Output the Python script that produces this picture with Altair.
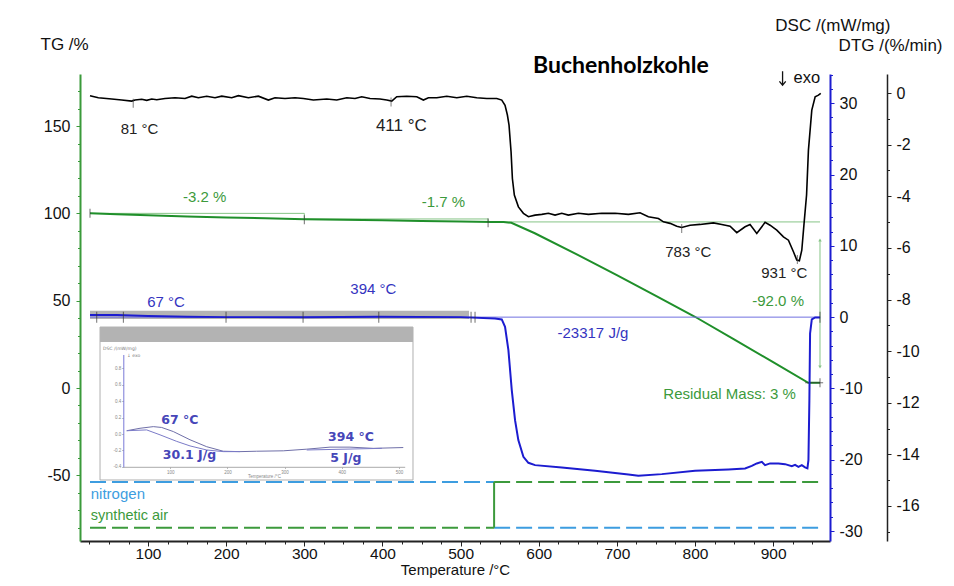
import altair as alt
import pandas as pd

FONT = "Liberation Sans"

# ---------------- scales (domains) ----------------
T_DOMAIN = [12.9, 972.8]
TG_DOMAIN = [-87.6, 179.8]
DSC_DOMAIN = [-31.4, 34.1]
DTG_DOMAIN = [-17.36, 0.74]

x_ticks = list(range(25, 951, 25))
tg_ticks = list(range(-80, 171, 10))
dsc_ticks = list(range(-30, 35, 2))
dtg_ticks = list(range(-17, 1, 1))

# ---------------- DTG curve (black) ----------------
dtg_T = [25.7, 36.4, 53.5, 66.3, 79.1, 83.3, 91.9, 98.3, 104.7, 111.1, 121.7, 134.5, 147.3,
         155.9, 164.4, 175.1, 185.7, 194.3, 207.1, 215.6, 228.4, 241.2, 254, 262.5, 275.3,
         288.1, 298.8, 311.6, 328.7, 341.5, 354.3, 364.9, 373.5, 384.1, 396.9, 405.5, 411.9,
         418.3, 431.1, 443.9, 452.4, 458.8, 469.5, 482.3, 495.1, 507.9, 520.7, 533.5, 546.3,
         552.7, 556.9, 559.9, 562, 564.6, 566.3, 568.8, 574, 580.4, 586.8, 595.3, 603.9,
         612.4, 620.9, 629.5, 637.9, 650.8, 663.6, 680.7, 697.7, 714.8, 729.7, 740.3, 753.2,
         759.6, 768.1, 776.7, 783, 793.7, 806.5, 823.6, 834.3, 844.9, 853.5, 864.1, 870.5,
         879.1, 889.7, 896.1, 904.7, 913.2, 919.6, 926, 930.3, 933.6, 936.7, 939.6, 942.8,
         945.2, 949.5, 953.8, 958, 961]
dtg_v = [-0.10, -0.18, -0.23, -0.27, -0.31, -0.27, -0.24, -0.28, -0.23, -0.26, -0.21, -0.18,
         -0.21, -0.12, -0.18, -0.12, -0.18, -0.12, -0.18, -0.10, -0.18, -0.12, -0.27, -0.18,
         -0.21, -0.18, -0.21, -0.27, -0.23, -0.27, -0.18, -0.21, -0.14, -0.21, -0.23, -0.27,
         -0.31, -0.14, -0.12, -0.14, -0.27, -0.18, -0.18, -0.12, -0.18, -0.12, -0.18, -0.21,
         -0.21, -0.27, -0.47, -0.85, -1.24, -2.28, -3.31, -3.95, -4.41, -4.66, -4.79, -4.73,
         -4.70, -4.66, -4.73, -4.66, -4.73, -4.66, -4.70, -4.66, -4.66, -4.70, -4.64, -4.79,
         -4.86, -4.99, -5.05, -5.16, -5.21, -5.12, -5.09, -5.03, -5.09, -5.16, -5.41, -5.18,
         -5.09, -5.44, -5.01, -5.12, -5.31, -5.57, -5.70, -6.15, -6.47, -6.50, -6.09, -5.05,
         -3.95, -2.21, -0.66, -0.14, -0.08, -0.01]
dtg_mark_T = [81, 411, 783, 931]
dtg_mark_v = [-0.39, -0.35, -5.25, -6.45]
dtg_lab = ["81 °C", "783 °C", "931 °C"]
dtg_lab_T = [89.1, 791.4, 914.3]
dtg_lab_v = [-1.41, -6.15, -6.99]
dtg_lab2 = ["411 °C"]
dtg_lab2_T = [424.2]
dtg_lab2_v = [-1.28]

# ---------------- TG curve (green) ----------------
tg_T = [25.7, 60, 100, 150, 200, 250, 300, 350, 400, 450, 500, 540, 555, 565, 595, 650,
        700, 750, 800, 850, 900, 945, 960]
tg_v = [100, 99.5, 98.9, 98.2, 97.6, 97.2, 96.6, 96.3, 96.0, 95.7, 95.4, 95.1, 95.0, 94.6,
        88.6, 76.2, 64.6, 52.8, 40.8, 27.8, 14.8, 3.0, 3.0]
step_T = [25.7, 300, 300, 535.2, 535.2, 960]
step_v = [100, 100, 96.8, 96.8, 95.1, 95.1]
step_order = [0, 1, 2, 3, 4, 5]
tg_mark_T = [25.7, 300, 535.2, 960]
tg_mark_v = [100, 96.3, 94.6, 3.0]
resid_T = [952.5]
resid_v = [3.0]
arrow_T = [960]
arrow_top = [84.8]
arrow_bot = [12.0]
tg_lab = ["-3.2 %", "-1.7 %", "-92.0 %", "Residual Mass: 3 %"]
tg_lab_T = [172.5, 478, 906.4, 844.3]
tg_lab_v = [109.6, 106.7, 50.0, -3.4]

# gas atmosphere
gas_T0 = [25.7, 542.9]
gas_T1 = [542.9, 960]
nitrogen_v = [-53.8, -80.0]
air_v = [-80.0, -53.8]
switch_T = [542.9]
gas_lab_T = [26.7]
nitrogen_lab_v = [-60.9]
air_lab_v = [-73.3]

# ---------------- DSC curve (blue) ----------------
dsc_T = [25.7, 60, 100, 150, 200, 300, 394, 500, 544.1, 552.7, 556.9, 561.2, 565.5, 569.7,
         573.9, 580.4, 586.8, 595.3, 629.5, 672.1, 714.8, 727.5, 757.5, 800.1, 842.7, 864.1,
         872.7, 879.1, 885.5, 889.7, 896.1, 906.8, 915.3, 923.9, 928.1, 932.4, 936.7, 940.9,
         943.9, 945.2, 946.4, 947.3, 949.5, 953.8, 960.2]
dsc_v = [0.3, 0.3, 0.15, 0.05, 0.0, 0.0, 0.05, 0.0, -0.18, -0.32, -1.36, -4.63, -10.24,
         -14.45, -17.25, -19.6, -20.43, -20.76, -21.08, -21.56, -22.06, -22.26, -22.02,
         -21.56, -21.36, -21.22, -20.86, -20.52, -20.29, -20.76, -20.52, -20.52, -20.62,
         -20.90, -20.72, -21.0, -20.76, -21.08, -21.22, -20.06, -11.64, -2.29, -0.32, -0.04,
         -0.04]
bar_T0 = [25.7]
bar_T1 = [510.8]
bar_v0 = [-0.28]
bar_v1 = [0.88]
base_T0 = [25.7]
base_T1 = [960]
base_v = [0.0]
dsc_mark_T = [34.3, 68.4, 199.8, 298.4, 395.3, 513.4, 518.5, 960]
dsc_mark_v = [0.0, 0.0, 0.0, 0.0, 0.0, 0.0, 0.0, 0.0]
dsc_lab = ["67 °C", "394 °C", "-23317 J/g"]
dsc_lab_T = [123, 388.4, 669.4]
dsc_lab_v = [2.15, 3.93, -2.2]
title_T = [592.8]
title_v = [34.26]
exo_T = [960.1]
exo_v = [32.8]
exo_arrow_T = [912.1]
exo_arrow_v = [33.5]

# ---------------- inset (partial DSC view) ----------------
IN_X_DOMAIN = [18, 510]
IN_Y_DOMAIN = [-0.4, 0.97]
in_ticks_x = [100, 200, 300, 400, 500]
in_ticks_y = [-0.4, -0.2, 0.0, 0.2, 0.4, 0.6, 0.8]
in_box_x = [-22.7, 524.5]
in_box_y = [-0.561, 1.305]
in_head_y = [1.122, 1.305]
in_upper_T = [24, 47.2, 70.5, 85.1, 105.4, 134.6, 163.8, 192.8, 222, 251.2, 297.7, 338.6,
              379.4, 414.3, 455, 507.5]
in_upper_v = [0.04, 0.07, 0.09, 0.08, 0.03, -0.07, -0.155, -0.21, -0.215, -0.21, -0.205,
              -0.185, -0.16, -0.16, -0.175, -0.165]
in_lower_T = [24, 58.9, 82.2, 111.4, 134.6, 163.8, 192.8, 222]
in_lower_v = [0.04, 0.05, -0.01, -0.09, -0.145, -0.195, -0.215, -0.215]
in_base2_T = [338.6, 470]
in_base2_v = [-0.195, -0.175]
in_lab = ["67 °C", "30.1 J/g", "394 °C", "5 J/g"]
in_lab_T = [117, 133.7, 416, 407]
in_lab_v = [0.171, -0.256, -0.037, -0.293]
in_small = ["DSC /(mW/mg)", "\u2193\ufe0e exo"]
in_small_T = [-17.5, 24.5]
in_small_v = [1.037, 0.957]

# ---------------- colours ----------------
GREEN = "#1f8f2a"
GREEN_TXT = "#3c9a3c"
GREEN_THIN = "#86c486"
BLUE = "#1c1cd0"
BLUE_TXT = "#3434c0"
LIGHT_BLUE = "#3d9de0"
INK = "#111111"
ARROW_SHAPE = "M0,-1L0,1M-0.45,0.45L0,1L0.45,0.45"


def cond(test, a, b):
    return {"condition": {"test": test, "value": a}, "value": b}


X_AXIS = alt.Axis(values=x_ticks, labelExpr="datum.value % 100 === 0 ? '' + datum.value : ''",
                  tickSize=cond("datum.value % 100 === 0", 5, 3), tickColor="#222",
                  domainColor="#222", domainWidth=2, labelFontSize=15.5, labelColor=INK,
                  labelPadding=0, labelFont=FONT, labelOverlap=False, labelFlush=False,
                  title="Temperature /°C", titleFont=FONT, titleFontSize=15,
                  titleFontWeight="normal", titleColor=INK, titleY=33,
                  titleBaseline="alphabetic", grid=False)
TG_AXIS = alt.Axis(orient="left", values=tg_ticks,
                   labelExpr="datum.value % 50 === 0 ? '' + datum.value : ''",
                   tickSize=cond("datum.value % 50 === 0", 4, 2.5), tickColor="#3a9a3a",
                   domainColor="#3a9a3a", domainWidth=2, labelFontSize=16, labelColor=INK,
                   labelFont=FONT, labelPadding=6, labelOverlap=False, labelFlush=False,
                   title="TG /%", titleFont=FONT, titleFontSize=17, titleFontWeight="normal",
                   titleColor=INK, titleAngle=0, titleX=-40, titleY=-30, titleAlign="left",
                   titleBaseline="middle", grid=False)
DSC_AXIS = alt.Axis(orient="right", values=dsc_ticks,
                    labelExpr="datum.value % 10 === 0 ? '' + datum.value : ''",
                    tickSize=cond("datum.value % 10 === 0", 4, 2.5), tickColor=BLUE,
                    domainColor=BLUE, domainWidth=2, labelFontSize=16, labelColor=INK,
                    labelFont=FONT, labelPadding=5, labelOverlap=False, labelFlush=False,
                    title="DSC /(mW/mg)", titleFont=FONT, titleFontSize=17,
                    titleFontWeight="normal", titleColor=INK, titleAngle=0, titleX=60,
                    titleY=-49, titleAlign="right", titleBaseline="middle", grid=False)
DTG_AXIS = alt.Axis(orient="right", offset=57, values=dtg_ticks,
                    labelExpr="datum.value % 2 === 0 ? '' + datum.value : ''",
                    tickSize=cond("datum.value % 2 === 0", 4, 2.5), tickColor="#222",
                    domainColor="#222", domainWidth=1.5, labelFontSize=16, labelColor=INK,
                    labelFont=FONT, labelPadding=5, labelOverlap=False, labelFlush=False,
                    title="DTG /(%/min)", titleFont=FONT, titleFontSize=17,
                    titleFontWeight="normal", titleColor=INK, titleAngle=0, titleX=55,
                    titleY=-29, titleAlign="right", titleBaseline="middle", grid=False)


def xq(f="T"):
    return alt.X(f"{f}:Q", scale=alt.Scale(domain=T_DOMAIN, nice=False, zero=False), axis=X_AXIS)


def yq(f, domain, axis):
    return alt.Y(f"{f}:Q", scale=alt.Scale(domain=domain, nice=False, zero=False), axis=axis)


def ytg(f="v"):
    return yq(f, TG_DOMAIN, TG_AXIS)


def ydsc(f="v"):
    return yq(f, DSC_DOMAIN, DSC_AXIS)


def ydtg(f="v"):
    return yq(f, DTG_DOMAIN, DTG_AXIS)


def df(**cols):
    return pd.DataFrame(cols)


# ---------------- TG group ----------------
tg_layers = [
    alt.Chart(df(T=step_T, v=step_v, o=step_order)).mark_line(color=GREEN_THIN, strokeWidth=1)
    .encode(x=xq(), y=ytg(), order="o:Q"),
    alt.Chart(df(T=tg_T, v=tg_v)).mark_line(color=GREEN, strokeWidth=2).encode(x=xq(), y=ytg()),
    alt.Chart(df(T=tg_mark_T, v=tg_mark_v)).mark_tick(orient="vertical", size=9, thickness=1, color="#333")
    .encode(x=xq(), y=ytg()),
    alt.Chart(df(T=resid_T, v=resid_v)).mark_tick(orient="horizontal", size=18, thickness=1, color="#333")
    .encode(x=xq(), y=ytg()),
    alt.Chart(df(T=arrow_T, a=arrow_top, b=arrow_bot)).mark_rule(color=GREEN_THIN, strokeWidth=1)
    .encode(x=xq(), y=ytg("a"), y2="b:Q"),
    alt.Chart(df(T=arrow_T, v=arrow_top)).mark_point(shape="triangle-up", size=12, filled=True, color=GREEN_THIN, opacity=1)
    .encode(x=xq(), y=ytg()),
    alt.Chart(df(T=arrow_T, v=arrow_bot)).mark_point(shape="triangle-down", size=12, filled=True, color=GREEN_THIN, opacity=1)
    .encode(x=xq(), y=ytg()),
    alt.Chart(df(T=tg_lab_T, v=tg_lab_v, t=tg_lab)).mark_text(font=FONT, fontSize=15, color=GREEN_TXT, align="center", baseline="middle")
    .encode(x=xq(), y=ytg(), text="t:N"),
    alt.Chart(df(T0=gas_T0, T1=gas_T1, v=nitrogen_v)).mark_rule(color=LIGHT_BLUE, strokeWidth=2, strokeDash=[16, 6])
    .encode(x=xq("T0"), x2="T1:Q", y=ytg()),
    alt.Chart(df(T0=gas_T0, T1=gas_T1, v=air_v)).mark_rule(color=GREEN_TXT, strokeWidth=2, strokeDash=[16, 6])
    .encode(x=xq("T0"), x2="T1:Q", y=ytg()),
    alt.Chart(df(T=switch_T, a=[nitrogen_v[0]], b=[air_v[0]])).mark_rule(color=GREEN_TXT, strokeWidth=2)
    .encode(x=xq(), y=ytg("a"), y2="b:Q"),
    alt.Chart(df(T=gas_lab_T, v=nitrogen_lab_v, t=["nitrogen"])).mark_text(font=FONT, fontSize=15, color=LIGHT_BLUE, align="left", baseline="middle")
    .encode(x=xq(), y=ytg(), text="t:N"),
    alt.Chart(df(T=gas_lab_T, v=air_lab_v, t=["synthetic air"])).mark_text(font=FONT, fontSize=14.5, color=GREEN_TXT, align="left", baseline="middle")
    .encode(x=xq(), y=ytg(), text="t:N"),
]
tg_group = alt.layer(*tg_layers)

# ---------------- DSC group ----------------
dsc_layers = [
    alt.Chart(df(T0=bar_T0, T1=bar_T1, a=bar_v0, b=bar_v1)).mark_rect(color="#b4b4b4")
    .encode(x=xq("T0"), x2="T1:Q", y=ydsc("a"), y2="b:Q"),
    alt.Chart(df(T0=base_T0, T1=base_T1, v=base_v)).mark_rule(color="#7070e0", strokeWidth=1)
    .encode(x=xq("T0"), x2="T1:Q", y=ydsc()),
    alt.Chart(df(T=dsc_T, v=dsc_v)).mark_line(color=BLUE, strokeWidth=2).encode(x=xq(), y=ydsc()),
    alt.Chart(df(T=dsc_mark_T, v=dsc_mark_v)).mark_tick(orient="vertical", size=11, thickness=1, color="#333")
    .encode(x=xq(), y=ydsc()),
    alt.Chart(df(T=dsc_lab_T, v=dsc_lab_v, t=dsc_lab)).mark_text(font=FONT, fontSize=15, color=BLUE_TXT, align="center", baseline="middle")
    .encode(x=xq(), y=ydsc(), text="t:N"),
    alt.Chart(df(T=title_T, v=title_v, t=["Buchenholzkohle"])).mark_text(font="Lato", fontWeight="bold", fontSize=23, color="#000", align="left", baseline="alphabetic")
    .encode(x=xq(), y=ydsc(), text="t:N"),
    alt.Chart(df(T=exo_T, v=exo_v, t=["exo"])).mark_text(font=FONT, fontSize=16.5, color=INK, align="right", baseline="alphabetic")
    .encode(x=xq(), y=ydsc(), text="t:N"),
    alt.Chart(df(T=exo_arrow_T, v=exo_arrow_v)).mark_point(shape=ARROW_SHAPE, size=196, filled=False, color=INK, strokeWidth=1.3, opacity=1)
    .encode(x=xq(), y=ydsc()),
]
dsc_group = alt.layer(*dsc_layers)

# ---------------- DTG group ----------------
dtg_layers = [
    alt.Chart(df(T=dtg_T, v=dtg_v)).mark_line(color="#000", strokeWidth=1.6).encode(x=xq(), y=ydtg()),
    alt.Chart(df(T=dtg_mark_T, v=dtg_mark_v)).mark_tick(orient="vertical", size=9, thickness=1, color="#444")
    .encode(x=xq(), y=ydtg()),
    alt.Chart(df(T=dtg_lab_T, v=dtg_lab_v, t=dtg_lab)).mark_text(font=FONT, fontSize=15, color="#222", align="center", baseline="middle")
    .encode(x=xq(), y=ydtg(), text="t:N"),
    alt.Chart(df(T=dtg_lab2_T, v=dtg_lab2_v, t=dtg_lab2)).mark_text(font=FONT, fontSize=17, color="#222", align="center", baseline="middle")
    .encode(x=xq(), y=ydtg(), text="t:N"),
]
dtg_group = alt.layer(*dtg_layers)

main = alt.layer(tg_group, dsc_group, dtg_group).resolve_scale(y="independent")

# ---------------- inset ----------------
IN_X_AXIS = alt.Axis(orient="bottom", offset=-74.2, values=in_ticks_x, labelFontSize=4.5,
                     labelColor="#888", labelFont=FONT, tickSize=1.5, tickColor="#aaa",
                     domainColor="#aaa", labelPadding=1, title="Temperature /°C",
                     titleFontSize=4.5, titleColor="#888", titleFont=FONT,
                     titleFontWeight="normal", titlePadding=0, grid=False, zindex=1)
IN_Y_AXIS = alt.Axis(orient="left", offset=-43.3, values=in_ticks_y,
                     labelExpr="replace(format(datum.value, '.1f'), '\u2212', '-')",
                     labelFontSize=4.5, labelColor="#888", labelFont=FONT, tickSize=1.5,
                     tickColor="#aaa", domainColor="#7a7ad8", labelPadding=1, title=None,
                     grid=False, zindex=1)


def xin(f="T"):
    return alt.X(f"{f}:Q", scale=alt.Scale(domain=IN_X_DOMAIN, range=[43.3, 324.7], nice=False, zero=False),
                 axis=IN_X_AXIS)


def yin(f="v"):
    return alt.Y(f"{f}:Q", scale=alt.Scale(domain=IN_Y_DOMAIN, range=[392.8, 280.5], nice=False, zero=False),
                 axis=IN_Y_AXIS)


inset_layers = [
    alt.Chart(df(a=[in_box_x[0]], b=[in_box_x[1]], c=[in_box_y[0]], d=[in_box_y[1]]))
    .mark_rect(fill="white", stroke="#b0b0b0", strokeWidth=1)
    .encode(x=xin("a"), x2="b:Q", y=yin("c"), y2="d:Q"),
    alt.Chart(df(a=[in_box_x[0]], b=[in_box_x[1]], c=[in_head_y[0]], d=[in_head_y[1]]))
    .mark_rect(fill="#b3b3b3")
    .encode(x=xin("a"), x2="b:Q", y=yin("c"), y2="d:Q"),
    alt.Chart(df(T=in_upper_T, v=in_upper_v)).mark_line(color="#6f6fa8", strokeWidth=1)
    .encode(x=xin(), y=yin()),
    alt.Chart(df(T=in_lower_T, v=in_lower_v)).mark_line(color="#7b7bc8", strokeWidth=1)
    .encode(x=xin(), y=yin()),
    alt.Chart(df(T=in_base2_T, v=in_base2_v)).mark_line(color="#7b7bc8", strokeWidth=1)
    .encode(x=xin(), y=yin()),
    alt.Chart(df(T=in_lab_T, v=in_lab_v, t=in_lab)).mark_text(font="DejaVu Sans", fontWeight="bold", fontSize=12.5, color="#4646b8", align="center", baseline="middle")
    .encode(x=xin(), y=yin(), text="t:N"),
    alt.Chart(df(T=in_small_T, v=in_small_v, t=in_small)).mark_text(font="DejaVu Sans", fontSize=4.5, color="#777", align="left", baseline="middle")
    .encode(x=xin(), y=yin(), text="t:N"),
]
inset = alt.layer(*inset_layers)

chart = (
    alt.layer(main, inset)
    .resolve_scale(x="independent", y="independent")
    .properties(width=750, height=467,
                padding={"left": 72, "top": 66, "right": 113, "bottom": 37},
                autosize=alt.AutoSizeParams(type="none"))
    .configure_view(stroke=None)
)

chart.save("out.html", embed_options={"renderer": "svg", "actions": False})
